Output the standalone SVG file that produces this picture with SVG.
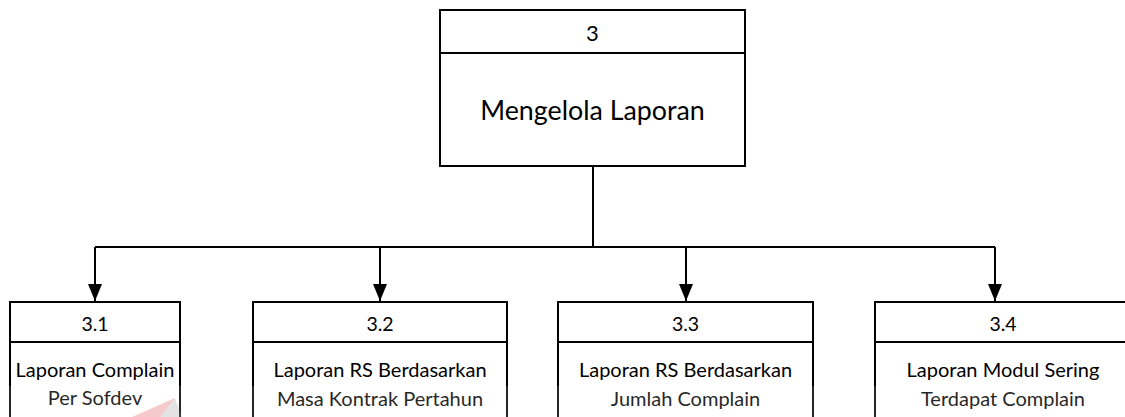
<svg xmlns="http://www.w3.org/2000/svg" width="1125" height="417" viewBox="0 0 1125 417">
  <style>
    .box { fill: #ffffff; stroke: #000000; stroke-width: 2; }
    .div { stroke: #000000; stroke-width: 2; }
    .wire { fill: none; stroke: #000000; stroke-width: 2; }
    text { font-family: Lato, "Open Sans", "Liberation Sans", sans-serif; fill: #000000; text-anchor: middle; }
    .title { font-size: 26.8px; }
    .num0 { font-size: 22px; }
    .num { font-size: 19.5px; }
    .lbl { font-size: 20px; }
  </style>
  <defs>
    <!-- filled arrowhead, drawn along +x so orient="auto" points it down the wire -->
    <marker id="arrow" viewBox="0 0 17 14" refX="17" refY="7" markerWidth="17" markerHeight="14" markerUnits="userSpaceOnUse" orient="auto">
      <path d="M0,0 L17,7 L0,14 Z" fill="#000000"/>
    </marker>
  </defs>

  <!-- tree connectors -->
  <g id="connectors">
    <path class="wire" d="M593,166 V247"/>
    <path class="wire" d="M95,247 H995"/>
    <path class="wire" d="M95,247 V301" marker-end="url(#arrow)"/>
    <path class="wire" d="M380,247 V301" marker-end="url(#arrow)"/>
    <path class="wire" d="M686,247 V301" marker-end="url(#arrow)"/>
    <path class="wire" d="M995,247 V301" marker-end="url(#arrow)"/>
  </g>

  <!-- root process -->
  <g id="node-3">
    <rect class="box" x="440" y="10" width="305" height="156"/>
    <line class="div" x1="440" y1="53" x2="745" y2="53"/>
    <text class="num0" x="592.5" y="40.5">3</text>
    <text class="title" x="592.5" y="120">Mengelola Laporan</text>
  </g>

  <!-- sub-processes -->
  <g id="node-3-1">
    <rect class="box" x="10" y="302" width="170" height="140"/>
    <line class="div" x1="10" y1="342" x2="180" y2="342"/>
    <text class="num" x="95" y="331">3.1</text>
    <text class="lbl" x="95" y="377">Laporan Complain</text>
    <text class="lbl" x="95" y="405">Per Sofdev</text>
  </g>

  <g id="node-3-2">
    <rect class="box" x="253" y="302" width="254" height="140"/>
    <line class="div" x1="253" y1="342" x2="507" y2="342"/>
    <text class="num" x="380" y="331">3.2</text>
    <text class="lbl" x="380" y="377">Laporan RS Berdasarkan</text>
    <text class="lbl" x="380" y="406">Masa Kontrak Pertahun</text>
  </g>

  <g id="node-3-3">
    <rect class="box" x="558" y="302" width="255" height="140"/>
    <line class="div" x1="558" y1="342" x2="813" y2="342"/>
    <text class="num" x="685.5" y="331">3.3</text>
    <text class="lbl" x="685.5" y="377">Laporan RS Berdasarkan</text>
    <text class="lbl" x="685.5" y="406">Jumlah Complain</text>
  </g>

  <g id="node-3-4">
    <rect class="box" x="875" y="302" width="257" height="140"/>
    <line class="div" x1="875" y1="342" x2="1132" y2="342"/>
    <text class="num" x="1003" y="331">3.4</text>
    <text class="lbl" x="1003" y="377">Laporan Modul Sering</text>
    <text class="lbl" x="1003" y="406">Terdapat Complain</text>
  </g>

  <!-- faint logo wash along the lower edge -->
  <g id="wash">
    <rect x="0" y="386" width="1125" height="31" fill="#ffffff" opacity="0.15"/>
    <polygon points="132,417 175,398 160,417" fill="#e05050" opacity="0.3"/>
    <polygon points="160,417 175,398 182,417" fill="#909090" opacity="0.25"/>
  </g>
</svg>
